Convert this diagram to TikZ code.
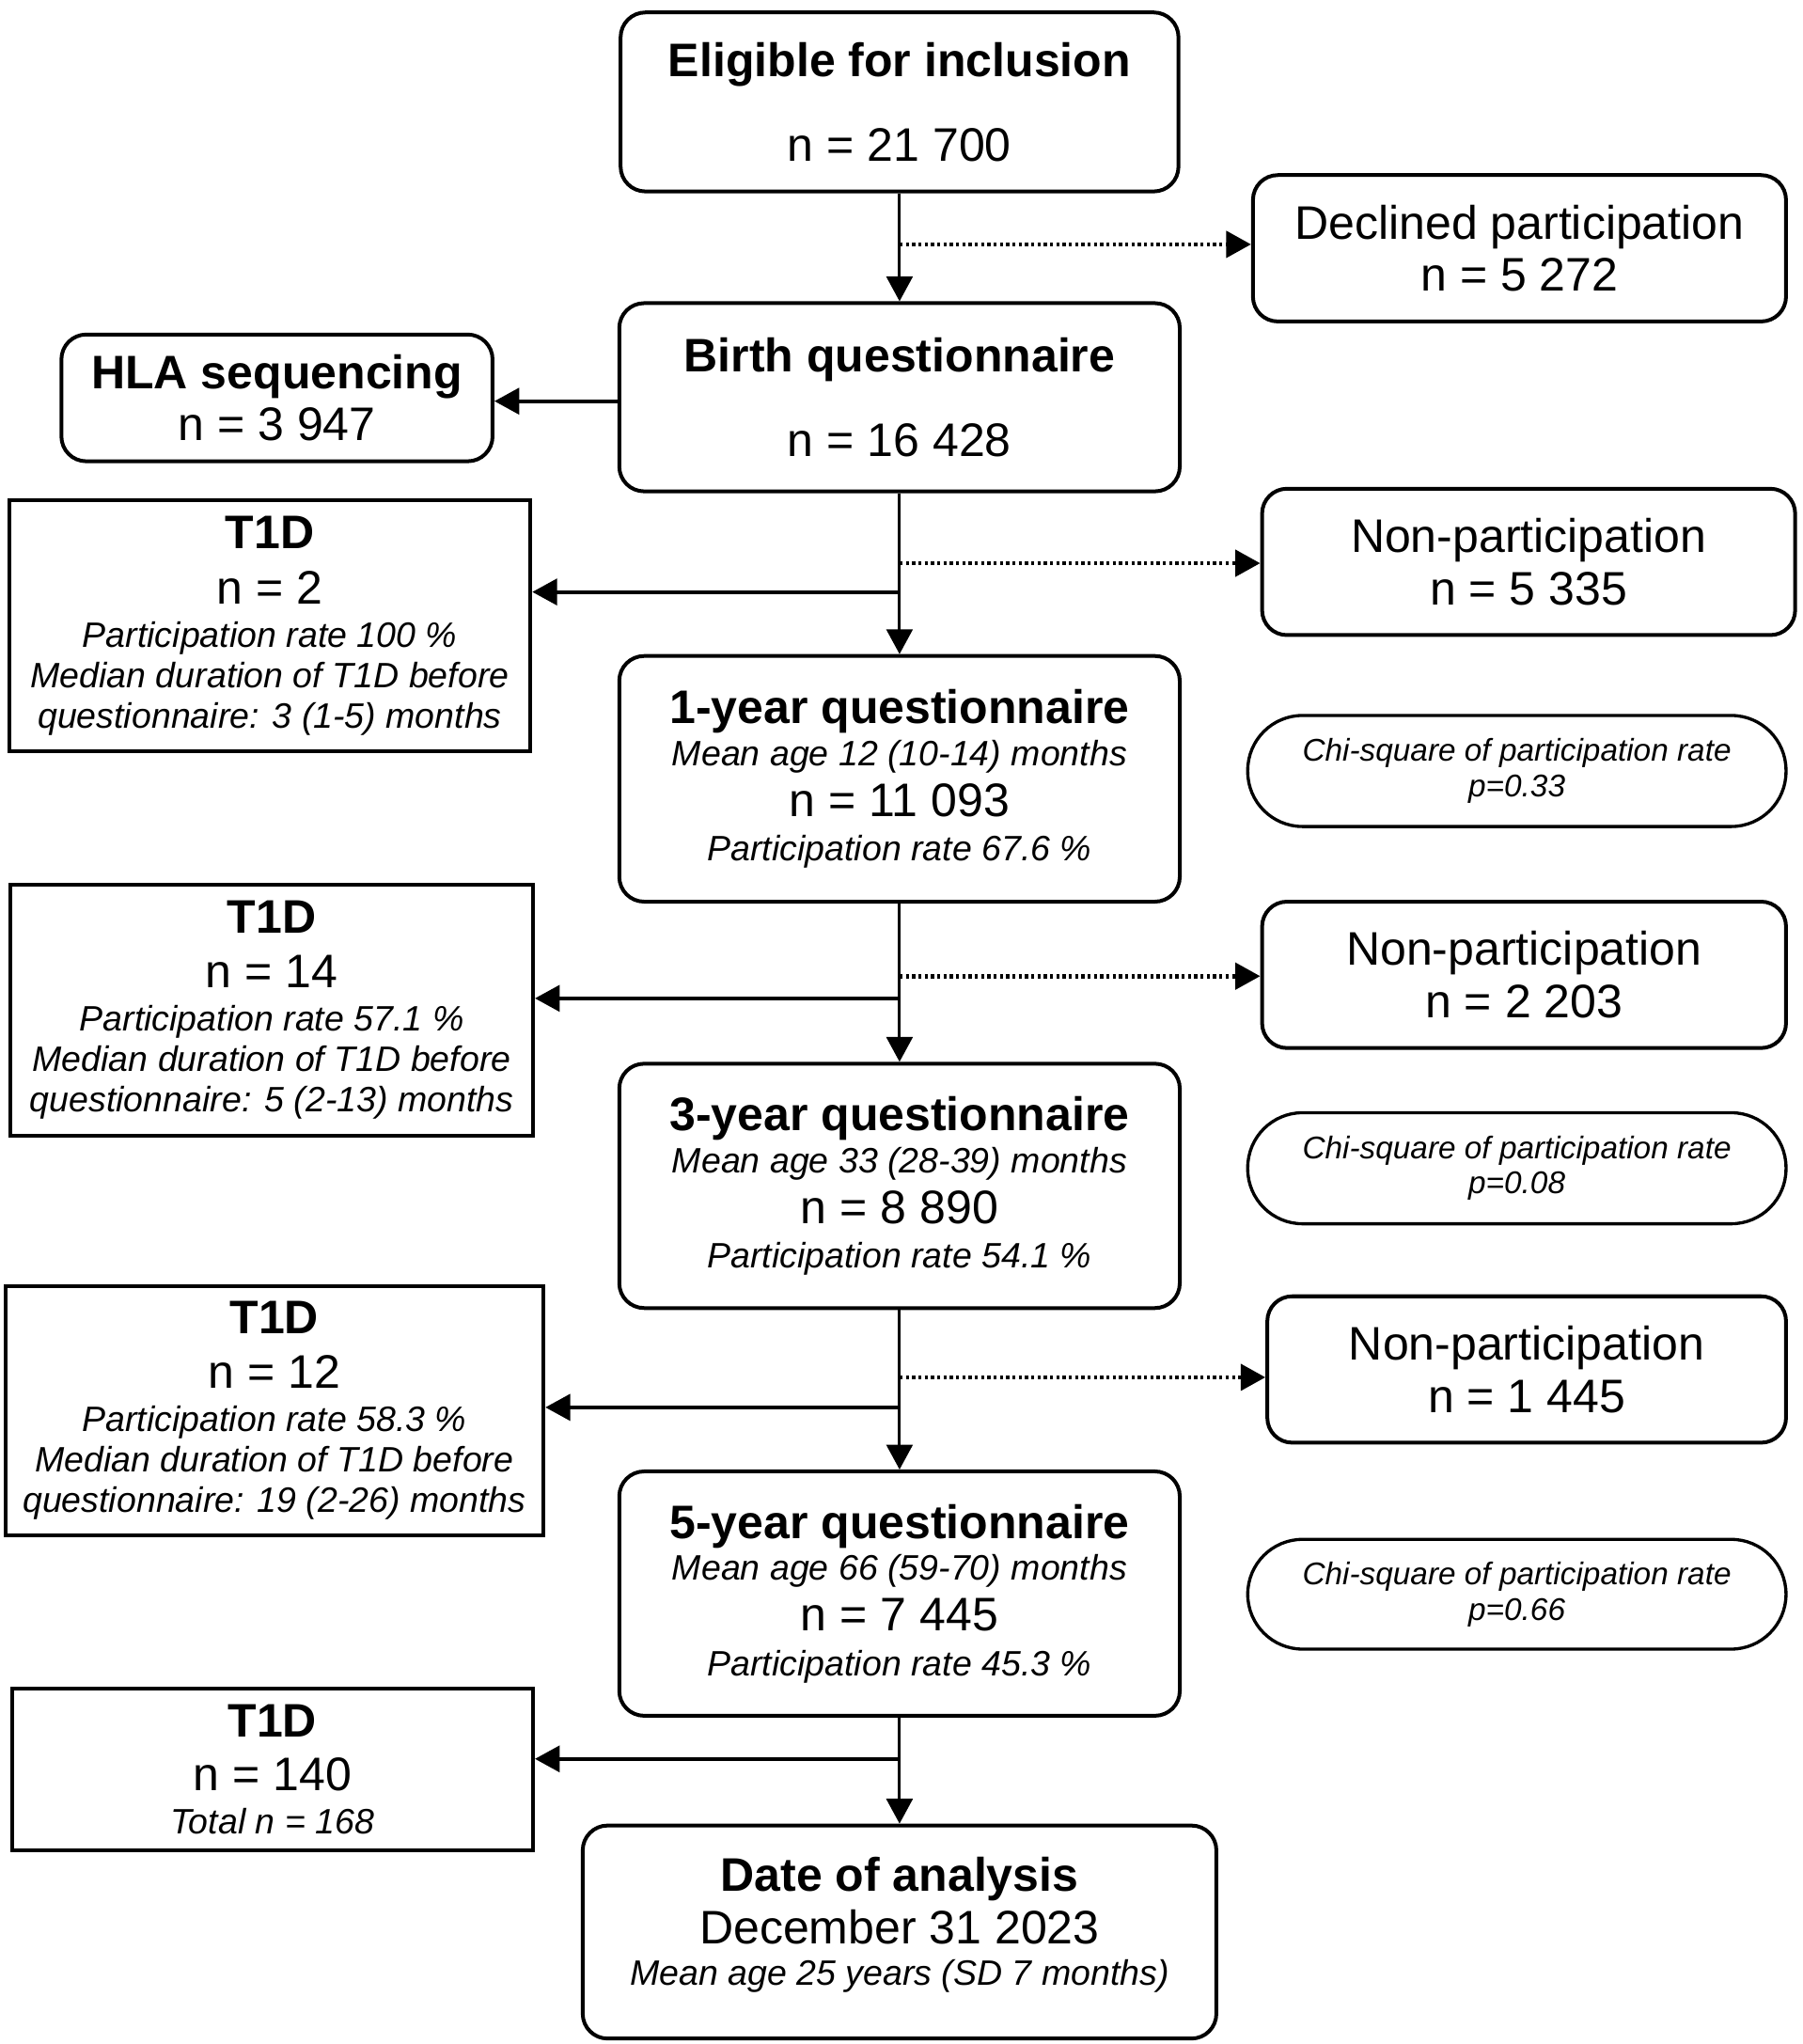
\documentclass[tikz,border=0pt]{standalone}
\usepackage{fontspec}
\setmainfont{Liberation Sans}
\usepackage{tikz}
\usetikzlibrary{arrows.meta}

\newcommand{\flowfont}{\fontsize{18}{0}\selectfont\lineskiplimit=-\maxdimen}
\newcommand{\chifont}{\fontsize{12}{0}\selectfont\itshape\lineskiplimit=-\maxdimen}
\newcommand{\smallit}[1]{{\fontsize{13.5}{0}\selectfont\itshape #1}}

\tikzset{
	qbox/.style={draw, line width=1.44pt, rounded corners=9.5pt, align=center, inner sep=0pt, font=\flowfont},
	sqbox/.style={draw, line width=1.44pt, align=center, inner sep=0pt, font=\flowfont},
	chibox/.style={draw, line width=1.2pt, rounded corners=21pt, align=center, inner sep=0pt, font=\chifont},
	boxsize/.style 2 args={minimum width=#1, minimum height=#2},
	dotarrow/.style={->, line width=1.7pt, dash pattern=on 1.2pt off 1.2pt},
}

\begin{document}
\begin{tikzpicture}[x=0.5pt, y=-0.5pt, line width=1.1pt, >={Triangle[length=9.5pt,width=10pt]}]
		\useasboundingbox (0,0) rectangle (1380,1564.2);

		% main column
		\node [qbox, boxsize={213.5pt}{68.5pt}] (elig) at (688.5,78) {\textbf{Eligible for inclusion}\\[32.5pt] n = 21 700};
		\node [qbox, boxsize={214.5pt}{72pt}] (birth) at (688.5,304) {\textbf{Birth questionnaire}\\[32.5pt] n = 16 428};
		\node [qbox, boxsize={214.5pt}{94pt}] (q1) at (688.5,596) {\textbf{1-year questionnaire}\\[16pt] \smallit{Mean age 12 (10-14) months}\\[19.5pt] n = 11 093\\[17pt] \smallit{Participation rate 67.6 \%}};
		\node [qbox, boxsize={214.5pt}{93.5pt}] (q3) at (688.5,907.5) {\textbf{3-year questionnaire}\\[16pt] \smallit{Mean age 33 (28-39) months}\\[19.5pt] n = 8 890\\[17pt] \smallit{Participation rate 54.1 \%}};
		\node [qbox, boxsize={214.5pt}{93.5pt}] (q5) at (688.5,1219.5) {\textbf{5-year questionnaire}\\[16pt] \smallit{Mean age 66 (59-70) months}\\[19.5pt] n = 7 445\\[17pt] \smallit{Participation rate 45.3 \%}};
		\node [qbox, boxsize={242.5pt}{81.5pt}] (date) at (688.5,1478.5) {\textbf{Date of analysis}\\[20pt] December 31 2023\\[16pt] \smallit{Mean age 25 years (SD 7 months)}\\[8pt]{}};

		% right column
		\node [qbox, boxsize={204pt}{56pt}] (decl) at (1163,190) {Declined participation\\[20pt] n = 5 272};
		\node [qbox, boxsize={204pt}{56pt}] (np1) at (1170,430) {Non-participation\\[20pt] n = 5 335};
		\node [chibox, boxsize={206pt}{42.5pt}] (chi1) at (1161,590) {Chi-square of participation rate\\[13.5pt] p=0.33};
		\node [qbox, boxsize={200.5pt}{56pt}] (np2) at (1166.5,746) {Non-participation\\[20pt] n = 2 203};
		\node [chibox, boxsize={206pt}{42.5pt}] (chi2) at (1161,894) {Chi-square of participation rate\\[13.5pt] p=0.08};
		\node [qbox, boxsize={198.5pt}{56pt}] (np3) at (1168.5,1048) {Non-participation\\[20pt] n = 1 445};
		\node [chibox, boxsize={206pt}{42pt}] (chi3) at (1161,1220) {Chi-square of participation rate\\[13.5pt] p=0.66};

		% left column
		\node [qbox, boxsize={165pt}{48.5pt}] (hla) at (212,304.5) {\textbf{HLA sequencing}\\[20pt] n = 3 947};
		\node [sqbox, boxsize={199.5pt}{96pt}] (t1) at (206.5,479) {\textbf{T1D}\\[21.5pt] n = 2\\[16.5pt] \smallit{Participation rate 100 \%}\\[15.5pt] \smallit{Median duration of T1D before}\\[15.5pt] \smallit{questionnaire: 3 (1-5) months}};
		\node [sqbox, boxsize={200pt}{96pt}] (t2) at (208,773) {\textbf{T1D}\\[21pt] n = 14\\[16.5pt] \smallit{Participation rate 57.1 \%}\\[15.5pt] \smallit{Median duration of T1D before}\\[15.5pt] \smallit{questionnaire: 5 (2-13) months}};
		\node [sqbox, boxsize={206pt}{95.5pt}] (t3) at (210,1079.5) {\textbf{T1D}\\[21pt] n = 12\\[16.5pt] \smallit{Participation rate 58.3 \%}\\[15.5pt] \smallit{Median duration of T1D before}\\[15.5pt] \smallit{questionnaire: 19 (2-26) months}};
		\node [sqbox, boxsize={199.5pt}{62pt}] (t4) at (208.5,1354) {\textbf{T1D}\\[20.5pt] n = 140\\[16.5pt] \smallit{Total n = 168}};

		% branch points
		\coordinate (k0) at (474,307);
		\coordinate (k1) at (688.5,187);
		\coordinate (k2) at (688.5,431);
		\coordinate (k3) at (688.5,453);
		\coordinate (k4) at (688.5,747);
		\coordinate (k5) at (688.5,764);
		\coordinate (k6) at (688.5,1054);
		\coordinate (k7) at (688.5,1077);
		\coordinate (k8) at (688.5,1346);

		\draw[->]
		(elig) -- (birth);
		\draw[->]
		(birth) -- (q1);
		\draw[->]
		(q1) -- (q3);
		\draw[->]
		(q3) -- (q5);
		\draw[->]
		(q5) -- (date);

		\draw[dotarrow]
		(k1) -- (k1 -| decl.west);
		\draw[dotarrow]
		(k2) -- (k2 -| np1.west);
		\draw[dotarrow]
		(k4) -- (k4 -| np2.west);
		\draw[dotarrow]
		(k6) -- (k6 -| np3.west);

		\draw[->, line width=1.4pt]
		(k0) -- (k0 -| hla.east);
		\draw[->, line width=1.4pt]
		(k3) -- (k3 -| t1.east);
		\draw[->, line width=1.4pt]
		(k5) -- (k5 -| t2.east);
		\draw[->, line width=1.4pt]
		(k7) -- (k7 -| t3.east);
		\draw[->, line width=1.4pt]
		(k8) -- (k8 -| t4.east);

\end{tikzpicture}
\end{document}
